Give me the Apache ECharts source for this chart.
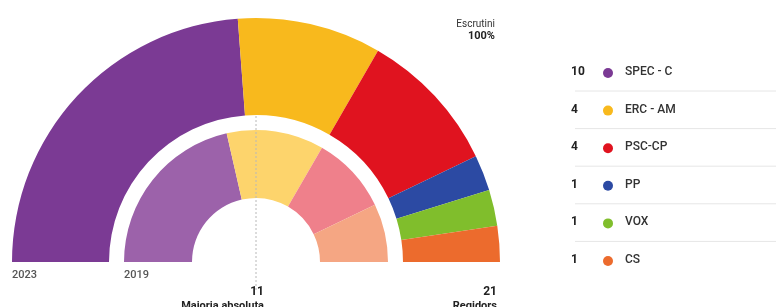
<!DOCTYPE html>
<html>
<head>
<meta charset="utf-8">
<script src="https://cdn.jsdelivr.net/npm/echarts@6/dist/echarts.min.js"></script>
<style>
  html, body { margin: 0; padding: 0; background: #fff; }
  #chart { width: 776px; height: 307px; }
</style>
</head>
<body>
<div id="chart"></div>
<script>
// 2023 results (outer ring + legend)
var parties = ['SPEC - C', 'ERC - AM', 'PSC-CP', 'PP', 'VOX', 'CS'];
var seats2023 = [10, 4, 4, 1, 1, 1];
var colors2023 = ['#7b3a94', '#f8b91d', '#e0131f', '#2c4aa3', '#80be2c', '#ec6b2d'];

// 2019 results (inner ring)
var parties2019 = ['SPEC - C', 'ERC - AM', 'PSC-CP', 'CS'];
var seats2019 = [9, 5, 4, 3];
var colors2019 = ['#9c62aa', '#fdd46c', '#ef808b', '#f5a683'];

var totalSeats = 21;
var majority = 11;

var chart = echarts.init(document.getElementById('chart'));
var font = 'Roboto, "Liberation Sans", sans-serif';

function ringData(names, vals, cols) {
  return vals.map(function (v, i) {
    return { name: names[i], value: v, itemStyle: { color: cols[i] } };
  });
}

var cx = 256, cy = 262;
var graphics = [
  // majority line
  { type: 'line', z: 20, shape: { x1: cx, y1: 116, x2: cx, y2: 290 },
    style: { stroke: '#b8b8b8', lineWidth: 1, lineDash: [2, 2] } },
  { type: 'text', left: 12, top: 270, style: { text: '2023', font: '500 11px ' + font, fill: '#555' } },
  { type: 'text', left: 124, top: 270, style: { text: '2019', font: '500 11px ' + font, fill: '#555' } },
  { type: 'text', right: 512, top: 286, style: { text: String(majority), font: 'bold 12px ' + font, fill: '#222' } },
  { type: 'text', right: 512, top: 301, style: { text: 'Majoria absoluta', font: 'bold 11px ' + font, fill: '#222' } },
  { type: 'text', right: 279, top: 286, style: { text: String(totalSeats), font: 'bold 12px ' + font, fill: '#222' } },
  { type: 'text', right: 279, top: 301, style: { text: 'Regidors', font: 'bold 11px ' + font, fill: '#222' } },
  { type: 'text', right: 281, top: 19, style: { text: 'Escrutini', font: '10px ' + font, fill: '#333' } },
  { type: 'text', right: 281, top: 31, style: { text: '100%', font: 'bold 11px ' + font, fill: '#222' } }
];

// legend rows
var rowY0 = 73, rowStep = 37.6;
parties.forEach(function (p, i) {
  var y = rowY0 + i * rowStep;
  graphics.push({ type: 'text', left: 571, top: y - 7, style: { text: String(seats2023[i]), font: 'bold 12px ' + font, fill: '#222' } });
  graphics.push({ type: 'circle', shape: { cx: 608, cy: y, r: 5 }, style: { fill: colors2023[i] } });
  graphics.push({ type: 'text', left: 625, top: y - 7, style: { text: p, font: '500 12px ' + font, fill: '#333' } });
  if (i < parties.length - 1) {
    graphics.push({ type: 'line', shape: { x1: 575, y1: y + 18, x2: 776, y2: y + 18 },
      style: { stroke: '#e6e6e6', lineWidth: 1 } });
  }
});

chart.setOption({
  animation: false,
  series: [
    {
      type: 'pie',
      center: [cx, cy],
      radius: [147, 244],
      startAngle: 180,
      endAngle: 360,
      clockwise: true,
      label: { show: false },
      labelLine: { show: false },
      silent: true,
      data: ringData(parties, seats2023, colors2023)
    },
    {
      type: 'pie',
      center: [cx, cy],
      radius: [64, 132],
      startAngle: 180,
      endAngle: 360,
      clockwise: true,
      label: { show: false },
      labelLine: { show: false },
      silent: true,
      data: ringData(parties2019, seats2019, colors2019)
    }
  ],
  graphic: graphics
});
</script>
</body>
</html>
